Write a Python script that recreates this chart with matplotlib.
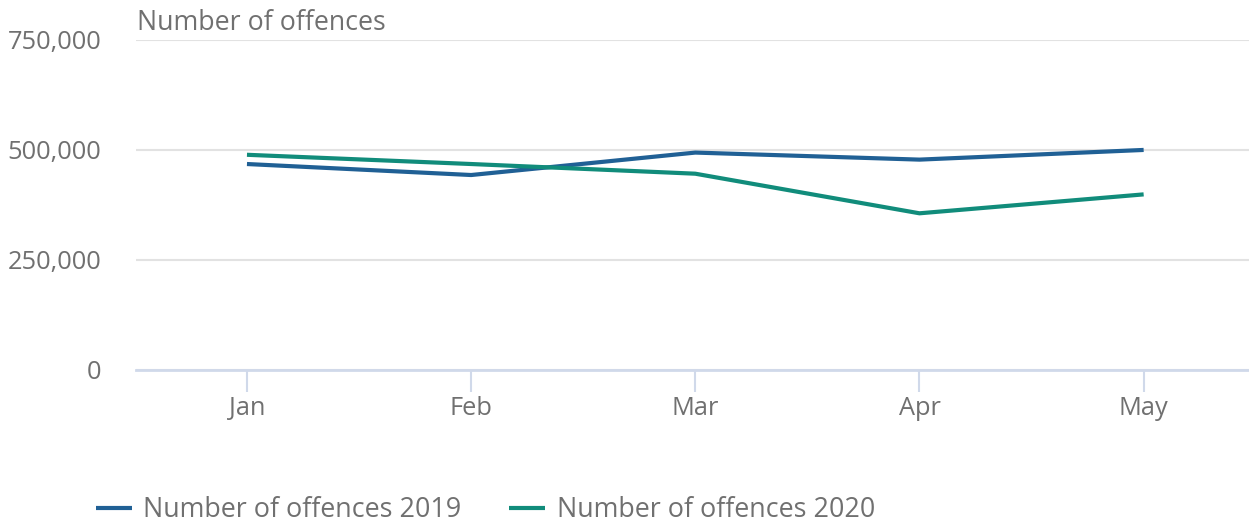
import matplotlib
matplotlib.use("Agg")
import matplotlib.pyplot as plt
from matplotlib.ticker import FuncFormatter

months = ["Jan", "Feb", "Mar", "Apr", "May"]
offences_2019 = [467000, 442000, 493000, 477000, 499000]
offences_2020 = [488000, 467000, 445000, 355000, 398000]
y_ticks = [0, 250000, 500000, 750000]

BLUE = "#206095"
GREEN = "#118c7b"
TEXT = "#707070"

plt.rcParams["font.family"] = ["Open Sans", "DejaVu Sans"]

fig = plt.figure(figsize=(12.49, 5.24), dpi=100)
ax = fig.add_axes([136 / 1249, 1 - 369.5 / 524, 1 - 136 / 1249, 330 / 524])

x = range(len(months))
ax.plot(x, offences_2019, color=BLUE, lw=3, label="Number of offences 2019", solid_capstyle="butt")
ax.plot(x, offences_2020, color=GREEN, lw=3, label="Number of offences 2020", solid_capstyle="butt")

ax.set_xlim(-0.495, 4.47)
ax.set_ylim(0, 750000)
ax.set_yticks(y_ticks)
ax.yaxis.set_major_formatter(FuncFormatter(lambda v, p: f"{v:,.0f}"))
ax.set_xticks(list(x), months)

ax.grid(axis="y", color="#e2e2e2", lw=1.5)
ax.set_axisbelow(True)
for s in ("top", "right", "left"):
    ax.spines[s].set_visible(False)
ax.spines["bottom"].set_color("#d0d9ea")
ax.spines["bottom"].set_linewidth(2)

ax.tick_params(axis="y", length=0, pad=25, labelsize=18.3, labelcolor=TEXT)
ax.tick_params(axis="x", length=16, width=1.5, color="#d0d9ea", pad=3,
               labelsize=18.3, labelcolor=TEXT)

fig.text(137 / 1249, 1 - 23 / 524, "Number of offences", fontsize=19.3, color=TEXT,
         va="center", ha="left")

fig.legend(loc="center left", bbox_to_anchor=(96 / 1249, 1 - 510 / 524), ncol=2,
           frameon=False, fontsize=19.4, labelcolor=TEXT, handlelength=1.34,
           handletextpad=0.41, columnspacing=1.78, borderaxespad=0, borderpad=0)

fig.savefig("out.png", dpi=100)
